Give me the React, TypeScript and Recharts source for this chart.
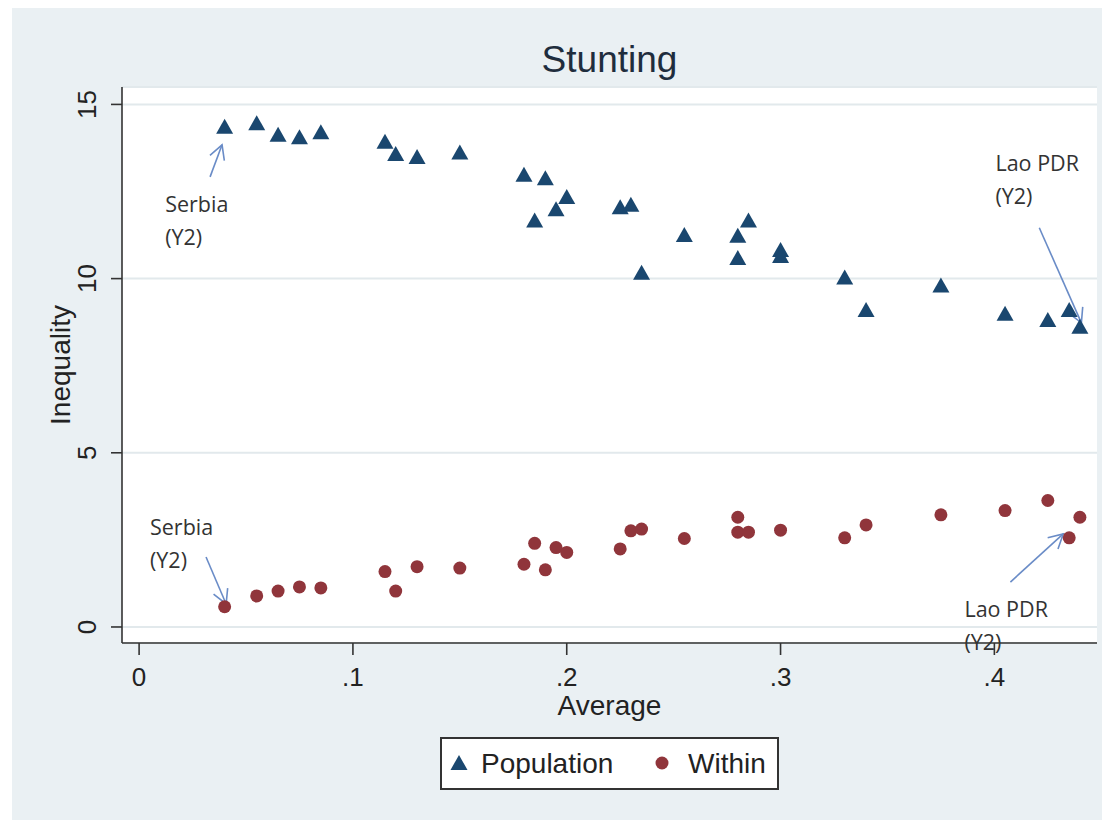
import React from 'react';
import {
  ScatterChart,
  Scatter,
  XAxis,
  YAxis,
  CartesianGrid,
  ReferenceLine,
  ReferenceDot,
  Legend,
} from 'recharts';

// ---- data ----
const populationAverage = [
  0.04, 0.055, 0.065, 0.075, 0.085, 0.115, 0.12, 0.13, 0.15, 0.18, 0.19, 0.2, 0.195, 0.185, 0.225,
  0.23, 0.235, 0.255, 0.28, 0.285, 0.28, 0.3, 0.3, 0.33, 0.34, 0.375, 0.405, 0.425, 0.435, 0.44,
];
const populationInequality = [
  14.36, 14.46, 14.13, 14.06, 14.2, 13.93, 13.58, 13.49, 13.62, 12.98, 12.88, 12.34, 11.99, 11.67, 12.05,
  12.12, 10.17, 11.25, 11.23, 11.67, 10.59, 10.82, 10.65, 10.03, 9.1, 9.8, 8.99, 8.81, 9.1, 8.62,
];
const withinAverage = [
  0.04, 0.055, 0.065, 0.075, 0.085, 0.115, 0.12, 0.13, 0.15, 0.18, 0.185, 0.19, 0.195, 0.2, 0.225,
  0.23, 0.235, 0.255, 0.28, 0.28, 0.285, 0.3, 0.33, 0.34, 0.375, 0.405, 0.425, 0.435, 0.44,
];
const withinInequality = [
  0.58, 0.89, 1.03, 1.15, 1.12, 1.59, 1.03, 1.73, 1.69, 1.8, 2.4, 1.64, 2.28, 2.14, 2.24,
  2.76, 2.81, 2.54, 3.15, 2.72, 2.72, 2.78, 2.56, 2.93, 3.22, 3.34, 3.63, 2.56, 3.15,
];
const xTicks = [0, 0.1, 0.2, 0.3, 0.4];
const yTicks = [0, 5, 10, 15];

// annotations (data coordinates)
const noteLines = [
  ['Serbia', '(Y2)'],
  ['Serbia', '(Y2)'],
  ['Lao PDR', '(Y2)'],
  ['Lao PDR', '(Y2)'],
];
const noteX = [0.0122, 0.0051, 0.4005, 0.386];
const noteY = [11.92, 2.64, 13.1, 0.3];
const arrowFromX = [0.0332, 0.0313, 0.421, 0.4075];
const arrowFromY = [12.92, 2.01, 11.46, 1.29];
const arrowToX = [0.0388, 0.0407, 0.4407, 0.4322];
const arrowToY = [13.84, 0.66, 8.73, 2.67];

const seriesNames = ['Population', 'Within'];

const NAVY = '#1a476f';
const MAROON = '#90353b';
const ARROW = '#6a8cc7';
const BG = '#eaf0f3';
const FONT = '"Liberation Sans", Arial, sans-serif';

const populationData = populationAverage.map((x, i) => ({ x, y: populationInequality[i] }));
const withinData = withinAverage.map((x, i) => ({ x, y: withinInequality[i] }));

const Triangle = (p: any) => {
  const { cx, cy } = p;
  if (cx == null || cy == null) return null;
  return (
    <polygon
      points={`${cx},${cy - 8} ${cx - 8.5},${cy + 7} ${cx + 8.5},${cy + 7}`}
      fill={NAVY}
    />
  );
};

const Dot = (p: any) => {
  const { cx, cy } = p;
  if (cx == null || cy == null) return null;
  return <circle cx={cx} cy={cy} r={6.5} fill={MAROON} />;
};

const ArrowShape = (p: any) => {
  const { x1, y1, x2, y2 } = p;
  if ([x1, y1, x2, y2].some((v) => v == null || isNaN(v))) return null;
  const ang = Math.atan2(y1 - y2, x1 - x2);
  const L = 16;
  const a = 0.5;
  const b1x = x2 + L * Math.cos(ang + a);
  const b1y = y2 + L * Math.sin(ang + a);
  const b2x = x2 + L * Math.cos(ang - a);
  const b2y = y2 + L * Math.sin(ang - a);
  return (
    <g>
      <line x1={x1} y1={y1} x2={x2} y2={y2} stroke={ARROW} strokeWidth={1.6} />
      <polyline
        points={`${b1x},${b1y} ${x2},${y2} ${b2x},${b2y}`}
        fill="none"
        stroke={ARROW}
        strokeWidth={1.6}
      />
    </g>
  );
};

const makeNote = (lines: string[]) => (p: any) => {
  const { cx, cy } = p;
  if (cx == null || cy == null) return null;
  return (
    <text
      x={cx}
      y={cy}
      fill="#333"
      fontSize={21.5}
      fontFamily='"Open Sans", "Noto Sans", sans-serif'
    >
      {lines.map((l, i) => (
        <tspan key={i} x={cx} dy={i === 0 ? 0 : 33}>
          {l}
        </tspan>
      ))}
    </text>
  );
};

const YTick = (p: any) => {
  const { x, y, payload } = p;
  const cx = x - 23.5;
  return (
    <text
      x={cx}
      y={y}
      transform={`rotate(-90 ${cx} ${y})`}
      textAnchor="middle"
      dominantBaseline="central"
      fontSize={26}
      fill="#222"
      fontFamily={FONT}
    >
      {payload.value}
    </text>
  );
};

const fmtX = (v: number) => (v === 0 ? '0' : String(v).replace(/^0/, ''));

const XTick = (p: any) => {
  const { x, y, payload } = p;
  return (
    <text
      x={x}
      y={y + 22}
      textAnchor="middle"
      dominantBaseline="central"
      fontSize={26}
      fill="#222"
      fontFamily={FONT}
    >
      {fmtX(payload.value)}
    </text>
  );
};

const LegendBox = (props: any) => {
  const payload = props.payload || [];
  const byName: Record<string, any> = {};
  payload.forEach((e: any) => (byName[e.value] = e));
  const names = seriesNames.filter((n) => byName[n]);
  const symX = [19, 222];
  const txtX = [41, 248];
  return (
    <svg width={339} height={53} style={{ display: 'block' }}>
      <rect x={1} y={1} width={337} height={51} fill="#fff" stroke="#333" strokeWidth={2} />
      {names.map((n, i) => (
        <g key={n}>
          {i === 0 ? (
            <polygon
              points={`${symX[i]},${18} ${symX[i] - 8.5},${33} ${symX[i] + 8.5},${33}`}
              fill={NAVY}
            />
          ) : (
            <circle cx={symX[i]} cy={26} r={6.5} fill={MAROON} />
          )}
          <text
            x={txtX[i]}
            y={26}
            dominantBaseline="central"
            fontSize={28}
            fill="#222"
            fontFamily={FONT}
          >
            {n}
          </text>
        </g>
      ))}
    </svg>
  );
};

export default function App() {
  return (
    <div
      style={{
        position: 'absolute',
        left: 0,
        top: 0,
        width: 1107,
        height: 822,
        background: '#fff',
        fontFamily: FONT,
      }}
    >
      <div
        style={{ position: 'absolute', left: 12, top: 8, width: 1090, height: 812, background: BG }}
      />
      <div
        style={{
          position: 'absolute',
          left: 122,
          top: 41,
          width: 975,
          textAlign: 'center',
          fontSize: 37,
          lineHeight: '37px',
          color: '#1f2d3d',
          fontFamily: FONT,
        }}
      >
        Stunting
      </div>
      <div style={{ position: 'absolute', left: 0, top: 0 }}>
        <ScatterChart
          width={1107}
          height={822}
          margin={{ top: 87, right: 10, bottom: 119, left: 0 }}
        >
          <CartesianGrid
            vertical={false}
            horizontal
            fill="#ffffff"
            stroke="#e2e9ec"
            strokeWidth={2}
          />
          <XAxis
            type="number"
            dataKey="x"
            domain={[-0.008, 0.448]}
            allowDataOverflow
            ticks={xTicks}
            height={60}
            tickSize={12}
            tickMargin={0}
            tick={<XTick />}
            axisLine={{ stroke: '#333', strokeWidth: 1.6 }}
            tickLine={{ stroke: '#333', strokeWidth: 1.6 }}
            label={{
              content: (p: any) => {
                const vb = p.viewBox || {};
                return (
                  <text
                    x={vb.x + vb.width / 2}
                    y={vb.y + 62}
                    textAnchor="middle"
                    dominantBaseline="central"
                    fontSize={28}
                    fill="#222"
                    fontFamily={FONT}
                  >
                    Average
                  </text>
                );
              },
            }}
          />
          <YAxis
            type="number"
            dataKey="y"
            domain={[-0.46, 15.5]}
            allowDataOverflow
            ticks={yTicks}
            width={122}
            tickSize={11}
            tickMargin={0}
            tick={<YTick />}
            axisLine={{ stroke: '#333', strokeWidth: 1.6 }}
            tickLine={{ stroke: '#333', strokeWidth: 1.6 }}
            label={{
              content: (p: any) => {
                const vb = p.viewBox || {};
                const cx = vb.x + 60;
                const cy = vb.y + vb.height / 2;
                return (
                  <text
                    x={cx}
                    y={cy}
                    transform={`rotate(-90 ${cx} ${cy})`}
                    textAnchor="middle"
                    dominantBaseline="central"
                    fontSize={28}
                    fill="#222"
                    fontFamily={FONT}
                  >
                    Inequality
                  </text>
                );
              },
            }}
          />
          <Legend
            layout="horizontal"
            verticalAlign="middle"
            align="center"
            wrapperStyle={{ left: 440, top: 737, width: 339, height: 53 }}
            content={<LegendBox />}
          />
          <Scatter
            name={seriesNames[0]}
            data={populationData}
            fill={NAVY}
            shape={Triangle}
            isAnimationActive={false}
          />
          <Scatter
            name={seriesNames[1]}
            data={withinData}
            fill={MAROON}
            shape={Dot}
            isAnimationActive={false}
          />
          {arrowFromX.map((fx, i) => (
            <ReferenceLine
              key={`a${i}`}
              segment={[
                { x: fx, y: arrowFromY[i] },
                { x: arrowToX[i], y: arrowToY[i] },
              ]}
              ifOverflow="visible"
              stroke={ARROW}
              shape={ArrowShape}
            />
          ))}
          {noteX.map((nx, i) => (
            <ReferenceDot
              key={`n${i}`}
              x={nx}
              y={noteY[i]}
              r={0}
              ifOverflow="visible"
              shape={makeNote(noteLines[i])}
            />
          ))}
        </ScatterChart>
      </div>
    </div>
  );
}
